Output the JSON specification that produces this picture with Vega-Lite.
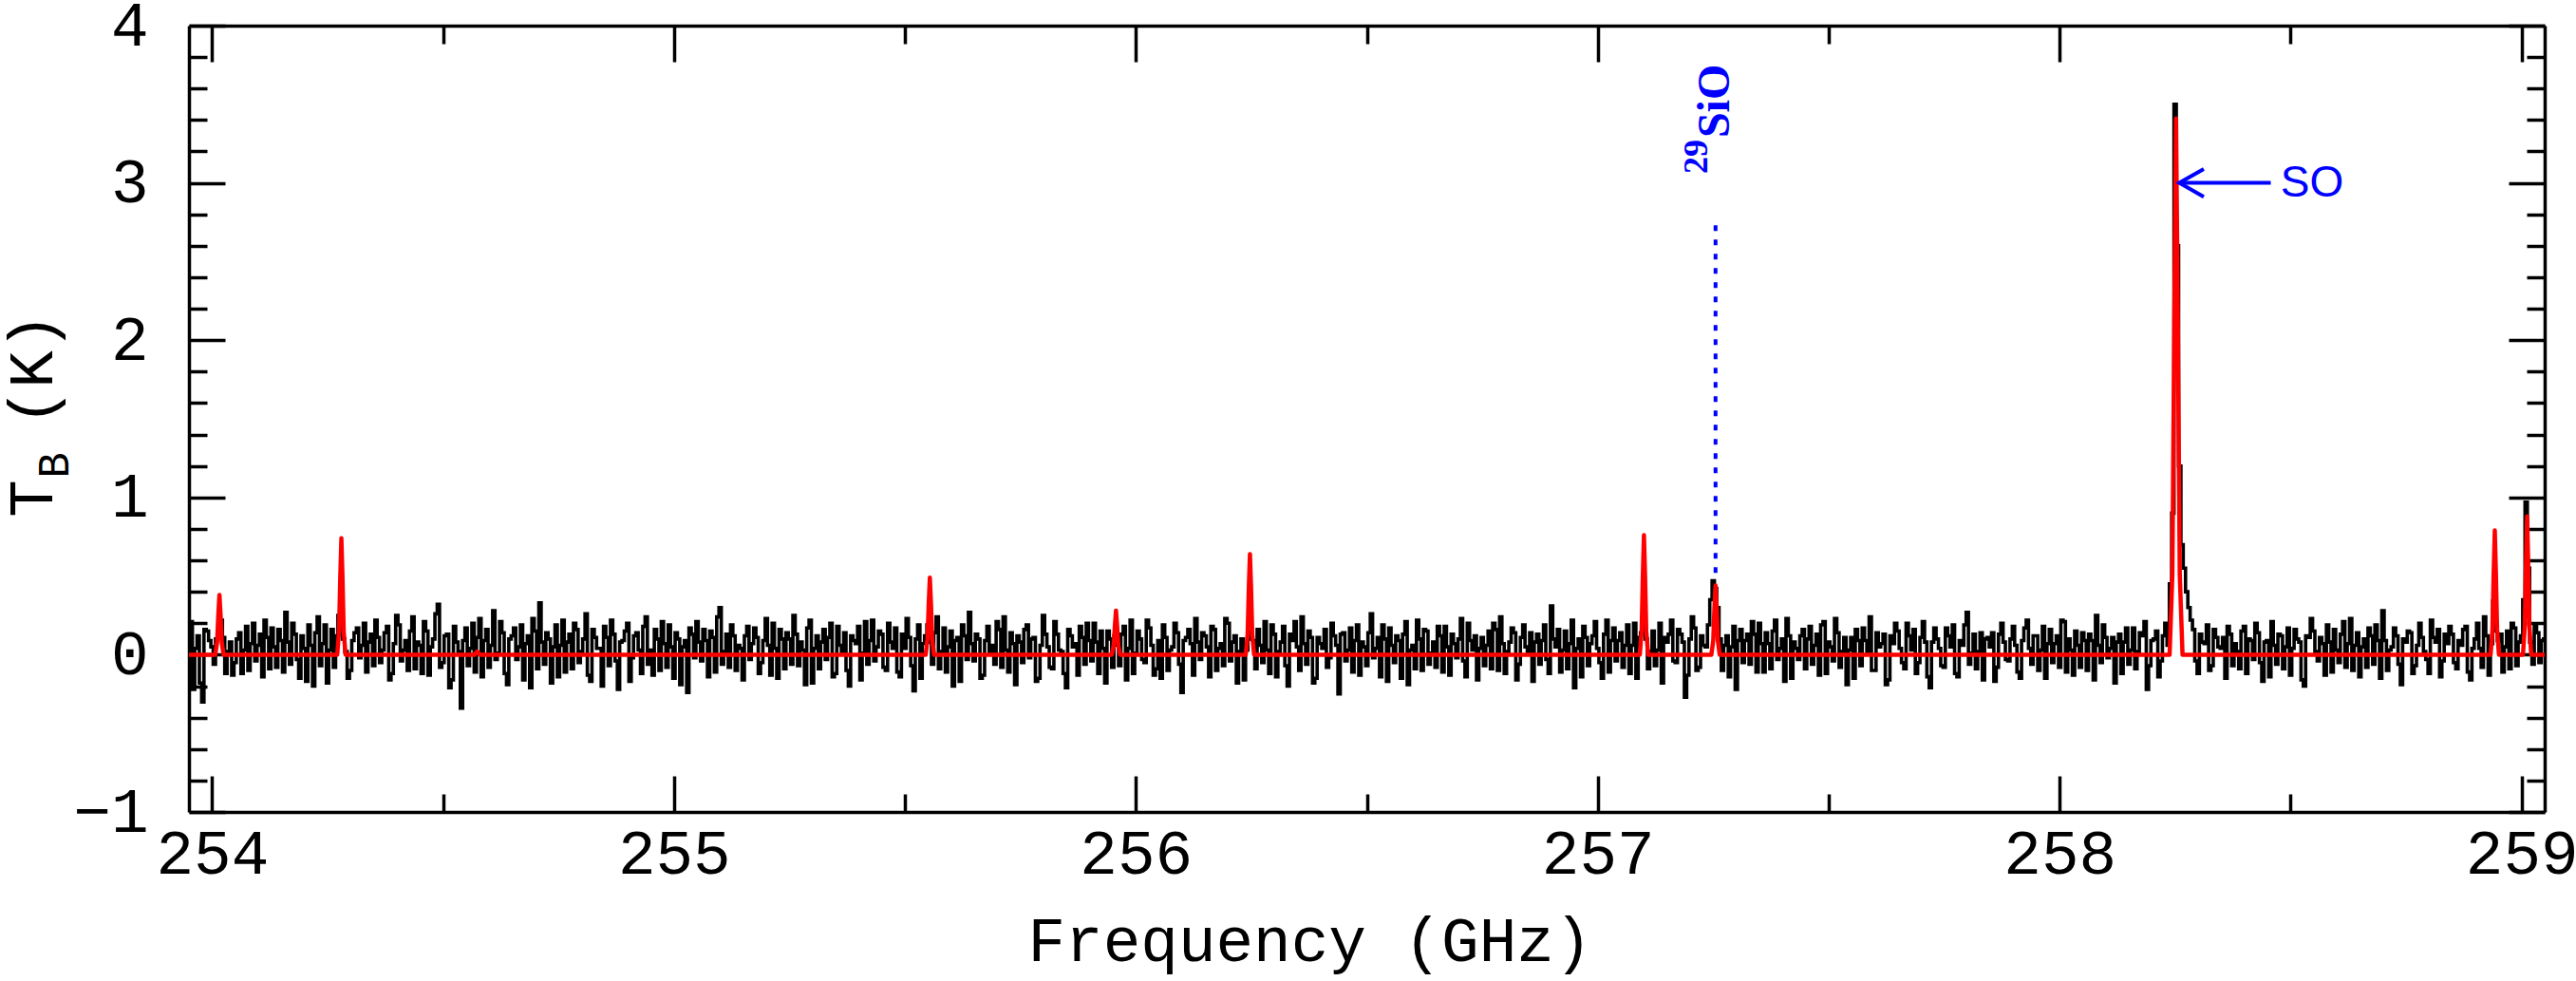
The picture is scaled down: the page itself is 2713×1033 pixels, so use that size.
{
"$schema":"https://vega.github.io/schema/vega-lite/v6.json",
"width":2481,"height":828,
"autosize":{"type":"none"},
"padding":{"left":199,"top":27,"right":33,"bottom":178},
"background":"white",
"config":{"view":{"stroke":null},"axis":{"grid":false,"domainColor":"black","tickColor":"black","domainWidth":3.5,"tickWidth":3.5,"labelFont":"Liberation Mono","labelFontSize":66,"labelFontWeight":"normal","labelColor":"black","titleFont":"Liberation Mono","titleFontSize":66,"titleColor":"black","titleFontWeight":"normal","labelFlush":false,"labelOverlap":false,"labelBound":false}},
"datasets":{
"spec":[
{"f":253.95,"t":0.18},{"f":253.96,"t":-0.22},{"f":253.97,"t":0.12},{"f":253.98,"t":-0.30},{"f":253.99,"t":0.15},{"f":254.00,"t":0.05},{"f":254.01,"t":0.10},{"f":254.02,"t":0.22},{"f":254.03,"t":-0.12},{"f":254.04,"t":0.08},
{"f":254.05,"t":-0.05},{"f":254.06,"t":0.14},{"f":254.07,"t":0.03},{"f":254.08,"t":-0.10},{"f":254.09,"t":0.20},{"f":254.10,"t":0.06},{"f":254.11,"t":-0.14},{"f":254.12,"t":0.11},{"f":254.13,"t":0.17},{"f":254.14,"t":-0.08},
{"f":254.15,"t":0.09},{"f":254.16,"t":0.27},{"f":254.17,"t":-0.06},{"f":254.18,"t":0.13},{"f":254.19,"t":-0.15},{"f":254.20,"t":0.04},{"f":254.21,"t":0.19},{"f":254.22,"t":-0.20},{"f":254.23,"t":0.24},{"f":254.24,"t":0.07},
{"f":254.25,"t":-0.18},{"f":254.26,"t":0.16},{"f":254.27,"t":0.12},{"f":254.28,"t":0.39},{"f":254.29,"t":0.02},{"f":254.30,"t":-0.10},{"f":254.31,"t":0.14},{"f":254.32,"t":-0.02},{"f":254.33,"t":0.20},{"f":254.34,"t":0.08},
{"f":254.35,"t":-0.07},{"f":254.36,"t":0.11},{"f":254.37,"t":0.03},{"f":254.38,"t":0.18},{"f":254.39,"t":-0.12},{"f":254.40,"t":0.25},{"f":254.41,"t":-0.04},{"f":254.42,"t":0.09},{"f":254.43,"t":0.15},{"f":254.44,"t":-0.09},
{"f":254.45,"t":0.06},{"f":254.46,"t":0.21},{"f":254.47,"t":-0.13},{"f":254.48,"t":0.10},{"f":254.49,"t":0.32},{"f":254.50,"t":-0.05},{"f":254.51,"t":0.13},{"f":254.52,"t":-0.16},{"f":254.53,"t":0.08},{"f":254.54,"t":-0.34},
{"f":254.55,"t":0.17},{"f":254.56,"t":0.04},{"f":254.57,"t":-0.11},{"f":254.58,"t":0.23},{"f":254.59,"t":0.09},{"f":254.60,"t":-0.08},{"f":254.61,"t":0.28},{"f":254.62,"t":0.01},{"f":254.63,"t":0.14},{"f":254.64,"t":-0.19},
{"f":254.65,"t":0.12},{"f":254.66,"t":-0.03},{"f":254.67,"t":0.19},{"f":254.68,"t":0.07},{"f":254.69,"t":-0.21},{"f":254.70,"t":0.15},{"f":254.71,"t":0.33},{"f":254.72,"t":-0.06},{"f":254.73,"t":0.10},{"f":254.74,"t":0.05},
{"f":254.75,"t":-0.14},{"f":254.76,"t":0.22},{"f":254.77,"t":0.08},{"f":254.78,"t":-0.09},{"f":254.79,"t":0.16},{"f":254.80,"t":0.02},{"f":254.81,"t":0.26},{"f":254.82,"t":-0.17},{"f":254.83,"t":0.11},{"f":254.84,"t":0.04},
{"f":254.85,"t":0.18},{"f":254.86,"t":-0.07},{"f":254.87,"t":0.13},{"f":254.88,"t":-0.22},{"f":254.89,"t":0.09},{"f":254.90,"t":0.20},{"f":254.91,"t":-0.02},{"f":254.92,"t":0.14},{"f":254.93,"t":-0.12},{"f":254.94,"t":0.24},
{"f":254.95,"t":0.03},{"f":254.96,"t":0.16},{"f":254.97,"t":-0.10},{"f":254.98,"t":0.07},{"f":254.99,"t":0.19},{"f":255.00,"t":-0.15},{"f":255.01,"t":0.10},{"f":255.02,"t":0.05},{"f":255.03,"t":-0.24},{"f":255.04,"t":0.13},
{"f":255.05,"t":0.21},{"f":255.06,"t":-0.04},{"f":255.07,"t":0.09},{"f":255.08,"t":0.15},{"f":255.09,"t":-0.11},{"f":255.10,"t":0.30},{"f":255.11,"t":0.02},{"f":255.12,"t":-0.08},{"f":255.13,"t":0.12},{"f":255.14,"t":0.06},
{"f":255.15,"t":-0.16},{"f":255.16,"t":0.18},{"f":255.17,"t":0.07},{"f":255.18,"t":0.11},{"f":255.19,"t":-0.05},{"f":255.20,"t":0.23},{"f":255.21,"t":-0.13},{"f":255.22,"t":0.04},{"f":255.23,"t":0.16},{"f":255.24,"t":-0.09},
{"f":255.25,"t":0.10},{"f":255.26,"t":0.25},{"f":255.27,"t":-0.07},{"f":255.28,"t":0.03},{"f":255.29,"t":0.17},{"f":255.30,"t":-0.18},{"f":255.31,"t":0.12},{"f":255.32,"t":0.08},{"f":255.33,"t":-0.03},{"f":255.34,"t":0.20},
{"f":255.35,"t":-0.12},{"f":255.36,"t":0.06},{"f":255.37,"t":0.14},{"f":255.38,"t":-0.20},{"f":255.39,"t":0.09},{"f":255.40,"t":0.18},{"f":255.41,"t":0.01},{"f":255.42,"t":-0.06},{"f":255.43,"t":0.22},{"f":255.44,"t":0.05},
{"f":255.45,"t":0.13},{"f":255.46,"t":-0.10},{"f":255.47,"t":0.08},{"f":255.48,"t":0.17},{"f":255.49,"t":-0.14},{"f":255.50,"t":0.04},{"f":255.51,"t":0.11},{"f":255.52,"t":-0.23},{"f":255.53,"t":0.19},{"f":255.54,"t":0.07},
{"f":255.55,"t":0.19},{"f":255.56,"t":-0.06},{"f":255.57,"t":0.24},{"f":255.58,"t":0.02},{"f":255.59,"t":-0.11},{"f":255.60,"t":0.15},{"f":255.61,"t":0.09},{"f":255.62,"t":-0.17},{"f":255.63,"t":0.12},{"f":255.64,"t":0.27},
{"f":255.65,"t":-0.04},{"f":255.66,"t":0.10},{"f":255.67,"t":-0.13},{"f":255.68,"t":0.18},{"f":255.69,"t":0.06},{"f":255.70,"t":0.21},{"f":255.71,"t":-0.08},{"f":255.72,"t":0.03},{"f":255.73,"t":0.14},{"f":255.74,"t":-0.19},
{"f":255.75,"t":0.08},{"f":255.76,"t":0.16},{"f":255.77,"t":-0.02},{"f":255.78,"t":0.11},{"f":255.79,"t":-0.15},{"f":255.80,"t":0.25},{"f":255.81,"t":0.05},{"f":255.82,"t":-0.09},{"f":255.83,"t":0.13},{"f":255.84,"t":0.02},
{"f":255.85,"t":-0.21},{"f":255.86,"t":0.12},{"f":255.87,"t":0.07},{"f":255.88,"t":0.18},{"f":255.89,"t":-0.06},{"f":255.90,"t":0.09},{"f":255.91,"t":0.20},{"f":255.92,"t":-0.12},{"f":255.93,"t":0.04},{"f":255.94,"t":0.15},
{"f":255.95,"t":-0.08},{"f":255.96,"t":0.06},{"f":255.97,"t":0.13},{"f":255.98,"t":-0.16},{"f":255.99,"t":0.22},{"f":256.00,"t":0.01},{"f":256.01,"t":0.10},{"f":256.02,"t":-0.05},{"f":256.03,"t":0.17},{"f":256.04,"t":-0.13},
{"f":256.05,"t":0.09},{"f":256.06,"t":0.19},{"f":256.07,"t":-0.10},{"f":256.08,"t":0.05},{"f":256.09,"t":0.14},{"f":256.10,"t":-0.24},{"f":256.11,"t":0.11},{"f":256.12,"t":0.07},{"f":256.13,"t":0.23},{"f":256.14,"t":-0.03},
{"f":256.15,"t":0.12},{"f":256.16,"t":-0.14},{"f":256.17,"t":0.16},{"f":256.18,"t":0.04},{"f":256.19,"t":-0.07},{"f":256.20,"t":0.20},{"f":256.21,"t":0.08},{"f":256.22,"t":-0.18},{"f":256.23,"t":0.10},{"f":256.24,"t":0.03},
{"f":256.25,"t":0.15},{"f":256.26,"t":-0.09},{"f":256.27,"t":0.06},{"f":256.28,"t":0.21},{"f":256.29,"t":-0.12},{"f":256.30,"t":0.13},{"f":256.31,"t":0.02},{"f":256.32,"t":0.18},{"f":256.33,"t":-0.20},{"f":256.34,"t":0.09},
{"f":256.35,"t":0.05},{"f":256.36,"t":0.24},{"f":256.37,"t":-0.06},{"f":256.38,"t":0.11},{"f":256.39,"t":-0.15},{"f":256.40,"t":0.07},{"f":256.41,"t":0.16},{"f":256.42,"t":-0.02},{"f":256.43,"t":0.12},{"f":256.44,"t":-0.25},
{"f":256.45,"t":0.14},{"f":256.46,"t":0.03},{"f":256.47,"t":-0.11},{"f":256.48,"t":0.19},{"f":256.49,"t":0.08},{"f":256.50,"t":-0.07},{"f":256.51,"t":0.26},{"f":256.52,"t":0.04},{"f":256.53,"t":-0.14},{"f":256.54,"t":0.10},
{"f":256.55,"t":0.17},{"f":256.56,"t":-0.05},{"f":256.57,"t":0.09},{"f":256.58,"t":0.13},{"f":256.59,"t":-0.19},{"f":256.60,"t":0.06},{"f":256.61,"t":0.22},{"f":256.62,"t":-0.10},{"f":256.63,"t":0.15},{"f":256.64,"t":0.01},
{"f":256.65,"t":-0.08},{"f":256.66,"t":0.12},{"f":256.67,"t":0.18},{"f":256.68,"t":-0.13},{"f":256.69,"t":0.07},{"f":256.70,"t":0.10},{"f":256.71,"t":-0.04},{"f":256.72,"t":0.20},{"f":256.73,"t":0.03},{"f":256.74,"t":-0.16},
{"f":256.75,"t":0.11},{"f":256.76,"t":0.06},{"f":256.77,"t":-0.09},{"f":256.78,"t":0.16},{"f":256.79,"t":0.24},{"f":256.80,"t":-0.12},{"f":256.81,"t":0.08},{"f":256.82,"t":0.14},{"f":256.83,"t":-0.06},{"f":256.84,"t":0.19},
{"f":256.85,"t":0.02},{"f":256.86,"t":-0.17},{"f":256.87,"t":0.13},{"f":256.88,"t":0.09},{"f":256.89,"t":-0.03},{"f":256.90,"t":0.31},{"f":256.91,"t":0.05},{"f":256.92,"t":-0.11},{"f":256.93,"t":0.15},{"f":256.94,"t":0.07},
{"f":256.95,"t":-0.21},{"f":256.96,"t":0.10},{"f":256.97,"t":0.18},{"f":256.98,"t":-0.07},{"f":256.99,"t":0.12},{"f":257.00,"t":0.04},{"f":257.01,"t":-0.15},{"f":257.02,"t":0.22},{"f":257.03,"t":0.09},{"f":257.04,"t":-0.04},
{"f":257.05,"t":0.14},{"f":257.06,"t":0.06},{"f":257.07,"t":-0.12},{"f":257.08,"t":0.20},{"f":257.09,"t":0.11},{"f":257.10,"t":0.25},{"f":257.11,"t":-0.09},{"f":257.12,"t":0.15},{"f":257.13,"t":0.03},{"f":257.14,"t":-0.18},
{"f":257.15,"t":0.08},{"f":257.16,"t":0.22},{"f":257.17,"t":-0.05},{"f":257.18,"t":0.13},{"f":257.19,"t":-0.27},{"f":257.20,"t":0.10},{"f":257.21,"t":0.17},{"f":257.22,"t":-0.08},{"f":257.23,"t":0.06},{"f":257.24,"t":0.19},
{"f":257.25,"t":0.47},{"f":257.26,"t":0.30},{"f":257.27,"t":-0.10},{"f":257.28,"t":0.12},{"f":257.29,"t":0.05},{"f":257.30,"t":-0.22},{"f":257.31,"t":0.16},{"f":257.32,"t":0.09},{"f":257.33,"t":-0.06},{"f":257.34,"t":0.13},
{"f":257.35,"t":0.20},{"f":257.36,"t":-0.11},{"f":257.37,"t":0.07},{"f":257.38,"t":0.15},{"f":257.39,"t":-0.03},{"f":257.40,"t":0.10},{"f":257.41,"t":0.23},{"f":257.42,"t":-0.15},{"f":257.43,"t":0.04},{"f":257.44,"t":0.12},
{"f":257.45,"t":-0.09},{"f":257.46,"t":0.18},{"f":257.47,"t":0.06},{"f":257.48,"t":-0.13},{"f":257.49,"t":0.21},{"f":257.50,"t":0.08},{"f":257.51,"t":-0.04},{"f":257.52,"t":0.14},{"f":257.53,"t":0.02},{"f":257.54,"t":-0.19},
{"f":257.55,"t":0.11},{"f":257.56,"t":0.16},{"f":257.57,"t":-0.07},{"f":257.58,"t":0.09},{"f":257.59,"t":0.24},{"f":257.60,"t":-0.10},{"f":257.61,"t":0.05},{"f":257.62,"t":0.13},{"f":257.63,"t":-0.16},{"f":257.64,"t":0.07},
{"f":257.65,"t":0.15},{"f":257.66,"t":-0.05},{"f":257.67,"t":0.20},{"f":257.68,"t":0.03},{"f":257.69,"t":-0.12},{"f":257.70,"t":0.11},{"f":257.71,"t":0.08},{"f":257.72,"t":-0.21},{"f":257.73,"t":0.17},{"f":257.74,"t":0.04},
{"f":257.75,"t":-0.08},{"f":257.76,"t":0.12},{"f":257.77,"t":0.19},{"f":257.78,"t":-0.14},{"f":257.79,"t":0.06},{"f":257.80,"t":0.27},{"f":257.81,"t":0.01},{"f":257.82,"t":-0.09},{"f":257.83,"t":0.14},{"f":257.84,"t":0.10},
{"f":257.85,"t":0.05},{"f":257.86,"t":-0.17},{"f":257.87,"t":0.13},{"f":257.88,"t":0.08},{"f":257.89,"t":-0.04},{"f":257.90,"t":0.18},{"f":257.91,"t":-0.11},{"f":257.92,"t":0.09},{"f":257.93,"t":0.22},{"f":257.94,"t":-0.06},
{"f":257.95,"t":0.12},{"f":257.96,"t":0.03},{"f":257.97,"t":-0.15},{"f":257.98,"t":0.16},{"f":257.99,"t":0.07},{"f":258.00,"t":-0.08},{"f":258.01,"t":0.21},{"f":258.02,"t":0.10},{"f":258.03,"t":-0.13},{"f":258.04,"t":0.06},
{"f":258.05,"t":0.14},{"f":258.06,"t":-0.10},{"f":258.07,"t":0.09},{"f":258.08,"t":0.25},{"f":258.09,"t":-0.05},{"f":258.10,"t":0.11},{"f":258.11,"t":0.04},{"f":258.12,"t":-0.18},{"f":258.13,"t":0.13},{"f":258.14,"t":0.08},
{"f":258.15,"t":-0.06},{"f":258.16,"t":0.17},{"f":258.17,"t":0.02},{"f":258.18,"t":0.12},{"f":258.19,"t":-0.22},{"f":258.20,"t":0.09},{"f":258.21,"t":0.15},{"f":258.22,"t":-0.04},{"f":258.23,"t":0.20},{"f":258.24,"t":0.45},
{"f":258.25,"t":3.50},{"f":258.26,"t":1.20},{"f":258.27,"t":0.55},{"f":258.28,"t":0.30},{"f":258.29,"t":0.16},{"f":258.30,"t":-0.12},{"f":258.31,"t":0.08},{"f":258.32,"t":0.19},{"f":258.33,"t":-0.07},{"f":258.34,"t":0.11},
{"f":258.35,"t":0.04},{"f":258.36,"t":-0.15},{"f":258.37,"t":0.13},{"f":258.38,"t":0.07},{"f":258.39,"t":-0.09},{"f":258.40,"t":0.18},{"f":258.41,"t":0.10},{"f":258.42,"t":-0.03},{"f":258.43,"t":0.14},{"f":258.44,"t":-0.17},
{"f":258.45,"t":0.09},{"f":258.46,"t":0.21},{"f":258.47,"t":-0.06},{"f":258.48,"t":0.12},{"f":258.49,"t":0.05},{"f":258.50,"t":-0.13},{"f":258.51,"t":0.16},{"f":258.52,"t":0.08},{"f":258.53,"t":-0.20},{"f":258.54,"t":0.11},
{"f":258.55,"t":0.15},{"f":258.56,"t":-0.04},{"f":258.57,"t":0.07},{"f":258.58,"t":0.19},{"f":258.59,"t":-0.11},{"f":258.60,"t":0.03},{"f":258.61,"t":0.13},{"f":258.62,"t":-0.08},{"f":258.63,"t":0.23},{"f":258.64,"t":0.06},
{"f":258.65,"t":-0.14},{"f":258.66,"t":0.10},{"f":258.67,"t":0.17},{"f":258.68,"t":-0.06},{"f":258.69,"t":0.09},{"f":258.70,"t":0.28},{"f":258.71,"t":-0.10},{"f":258.72,"t":0.05},{"f":258.73,"t":0.12},{"f":258.74,"t":-0.19},
{"f":258.75,"t":0.08},{"f":258.76,"t":0.14},{"f":258.77,"t":-0.07},{"f":258.78,"t":0.20},{"f":258.79,"t":0.02},{"f":258.80,"t":-0.12},{"f":258.81,"t":0.11},{"f":258.82,"t":0.16},{"f":258.83,"t":-0.04},{"f":258.84,"t":0.07},
{"f":258.85,"t":0.13},{"f":258.86,"t":-0.09},{"f":258.87,"t":0.06},{"f":258.88,"t":0.18},{"f":258.89,"t":-0.16},{"f":258.90,"t":0.10},{"f":258.91,"t":0.04},{"f":258.92,"t":0.24},{"f":258.93,"t":-0.13},{"f":258.94,"t":0.34},
{"f":258.95,"t":0.09},{"f":258.96,"t":-0.11},{"f":258.97,"t":0.15},{"f":258.98,"t":0.20},{"f":258.99,"t":-0.07},{"f":259.00,"t":0.12},{"f":259.01,"t":0.97},{"f":259.02,"t":0.08},{"f":259.03,"t":0.18},{"f":259.04,"t":-0.05},
{"f":259.05,"t":0.10},
{"f":253.955,"t":0.21},{"f":253.965,"t":0.04},{"f":253.975,"t":-0.18},{"f":253.985,"t":0.16},{"f":253.995,"t":0.09},{"f":254.005,"t":-0.06},{"f":254.015,"t":0.15},{"f":254.025,"t":0.11},{"f":254.035,"t":0.02},{"f":254.045,"t":-0.13},
{"f":254.055,"t":0.10},{"f":254.065,"t":-0.12},{"f":254.075,"t":0.18},{"f":254.085,"t":0.07},{"f":254.095,"t":-0.04},{"f":254.105,"t":0.13},{"f":254.115,"t":0.22},{"f":254.125,"t":-0.09},{"f":254.135,"t":0.05},{"f":254.145,"t":0.16},
{"f":254.155,"t":-0.11},{"f":254.165,"t":0.08},{"f":254.175,"t":0.20},{"f":254.185,"t":-0.03},{"f":254.195,"t":0.12},{"f":254.205,"t":-0.17},{"f":254.215,"t":0.06},{"f":254.225,"t":0.14},{"f":254.235,"t":-0.07},{"f":254.245,"t":0.19},
{"f":254.255,"t":0.03},{"f":254.265,"t":-0.08},{"f":254.275,"t":0.25},{"f":254.285,"t":0.10},{"f":254.295,"t":-0.15},{"f":254.305,"t":0.09},{"f":254.315,"t":0.17},{"f":254.325,"t":0.06},{"f":254.335,"t":-0.11},{"f":254.345,"t":0.13},
{"f":254.355,"t":0.22},{"f":254.365,"t":-0.05},{"f":254.375,"t":0.14},{"f":254.385,"t":-0.16},{"f":254.395,"t":0.07},{"f":254.405,"t":0.19},{"f":254.415,"t":0.03},{"f":254.425,"t":-0.10},{"f":254.435,"t":0.24},{"f":254.445,"t":0.08},
{"f":254.455,"t":-0.12},{"f":254.465,"t":0.15},{"f":254.475,"t":0.05},{"f":254.485,"t":0.26},{"f":254.495,"t":-0.08},{"f":254.505,"t":0.12},{"f":254.515,"t":-0.21},{"f":254.525,"t":0.18},{"f":254.535,"t":0.02},{"f":254.545,"t":0.09},
{"f":254.555,"t":-0.07},{"f":254.565,"t":0.20},{"f":254.575,"t":0.11},{"f":254.585,"t":-0.14},{"f":254.595,"t":0.16},{"f":254.605,"t":0.06},{"f":254.615,"t":-0.03},{"f":254.625,"t":0.21},{"f":254.635,"t":-0.12},{"f":254.645,"t":0.10},
{"f":254.655,"t":0.17},{"f":254.665,"t":0.05},{"f":254.675,"t":-0.16},{"f":254.685,"t":0.12},{"f":254.695,"t":0.23},{"f":254.705,"t":-0.09},{"f":254.715,"t":0.08},{"f":254.725,"t":0.14},{"f":254.735,"t":-0.18},{"f":254.745,"t":0.19},
{"f":254.755,"t":0.06},{"f":254.765,"t":-0.11},{"f":254.775,"t":0.13},{"f":254.785,"t":0.20},{"f":254.795,"t":-0.05},{"f":254.805,"t":0.10},{"f":254.815,"t":-0.13},{"f":254.825,"t":0.16},{"f":254.835,"t":0.04},{"f":254.845,"t":-0.20},
{"f":254.855,"t":0.11},{"f":254.865,"t":0.22},{"f":254.875,"t":-0.04},{"f":254.885,"t":0.08},{"f":254.895,"t":0.15},{"f":254.905,"t":-0.17},{"f":254.915,"t":0.12},{"f":254.925,"t":0.03},{"f":254.935,"t":0.18},{"f":254.945,"t":-0.06},
{"f":254.955,"t":-0.13},{"f":254.965,"t":0.10},{"f":254.975,"t":0.21},{"f":254.985,"t":-0.08},{"f":254.995,"t":0.05},{"f":255.005,"t":0.14},{"f":255.015,"t":-0.19},{"f":255.025,"t":0.09},{"f":255.035,"t":0.17},{"f":255.045,"t":-0.02},
{"f":255.055,"t":0.08},{"f":255.065,"t":0.16},{"f":255.075,"t":-0.14},{"f":255.085,"t":0.11},{"f":255.095,"t":0.24},{"f":255.105,"t":-0.06},{"f":255.115,"t":0.13},{"f":255.125,"t":0.19},{"f":255.135,"t":-0.10},{"f":255.145,"t":0.04},
{"f":255.155,"t":0.12},{"f":255.165,"t":-0.03},{"f":255.175,"t":0.17},{"f":255.185,"t":-0.12},{"f":255.195,"t":0.09},{"f":255.205,"t":0.06},{"f":255.215,"t":0.20},{"f":255.225,"t":-0.15},{"f":255.235,"t":0.10},{"f":255.245,"t":0.14},
{"f":255.255,"t":-0.06},{"f":255.265,"t":0.13},{"f":255.275,"t":0.08},{"f":255.285,"t":-0.19},{"f":255.295,"t":0.22},{"f":255.305,"t":0.04},{"f":255.315,"t":-0.09},{"f":255.325,"t":0.16},{"f":255.335,"t":0.11},{"f":255.345,"t":-0.14},
{"f":255.355,"t":0.18},{"f":255.365,"t":0.02},{"f":255.375,"t":-0.10},{"f":255.385,"t":0.12},{"f":255.395,"t":0.07},{"f":255.405,"t":-0.16},{"f":255.415,"t":0.21},{"f":255.425,"t":0.09},{"f":255.435,"t":-0.04},{"f":255.445,"t":0.15},
{"f":255.455,"t":-0.08},{"f":255.465,"t":0.20},{"f":255.475,"t":0.04},{"f":255.485,"t":-0.11},{"f":255.495,"t":0.13},{"f":255.505,"t":0.23},{"f":255.515,"t":-0.07},{"f":255.525,"t":0.10},{"f":255.535,"t":-0.15},{"f":255.545,"t":0.12},
{"f":255.555,"t":0.08},{"f":255.565,"t":0.14},{"f":255.575,"t":-0.09},{"f":255.585,"t":0.17},{"f":255.595,"t":0.05},{"f":255.605,"t":-0.20},{"f":255.615,"t":0.11},{"f":255.625,"t":0.19},{"f":255.635,"t":-0.03},{"f":255.645,"t":0.07},
{"f":255.655,"t":0.13},{"f":255.665,"t":-0.15},{"f":255.675,"t":0.09},{"f":255.685,"t":0.02},{"f":255.695,"t":-0.06},{"f":255.705,"t":0.16},{"f":255.715,"t":0.24},{"f":255.725,"t":-0.11},{"f":255.735,"t":0.07},{"f":255.745,"t":0.12},
{"f":255.755,"t":-0.05},{"f":255.765,"t":0.19},{"f":255.775,"t":0.10},{"f":255.785,"t":-0.17},{"f":255.795,"t":0.06},{"f":255.805,"t":0.13},{"f":255.815,"t":-0.08},{"f":255.825,"t":0.21},{"f":255.835,"t":0.03},{"f":255.845,"t":-0.12},
{"f":255.855,"t":0.16},{"f":255.865,"t":0.05},{"f":255.875,"t":-0.13},{"f":255.885,"t":0.11},{"f":255.895,"t":0.20},{"f":255.905,"t":-0.04},{"f":255.915,"t":0.08},{"f":255.925,"t":0.15},{"f":255.935,"t":-0.18},{"f":255.945,"t":0.10},
{"f":255.955,"t":0.12},{"f":255.965,"t":-0.07},{"f":255.975,"t":0.18},{"f":255.985,"t":0.04},{"f":255.995,"t":-0.12},{"f":256.005,"t":0.15},{"f":256.015,"t":-0.03},{"f":256.025,"t":0.22},{"f":256.035,"t":0.06},{"f":256.045,"t":-0.09},
{"f":256.055,"t":-0.15},{"f":256.065,"t":0.11},{"f":256.075,"t":0.03},{"f":256.085,"t":0.20},{"f":256.095,"t":-0.06},{"f":256.105,"t":0.09},{"f":256.115,"t":0.16},{"f":256.125,"t":-0.13},{"f":256.135,"t":0.08},{"f":256.145,"t":0.14},
{"f":256.155,"t":0.05},{"f":256.165,"t":0.18},{"f":256.175,"t":-0.10},{"f":256.185,"t":0.07},{"f":256.195,"t":0.23},{"f":256.205,"t":-0.04},{"f":256.215,"t":0.12},{"f":256.225,"t":0.02},{"f":256.235,"t":-0.16},{"f":256.245,"t":0.10},
{"f":256.255,"t":0.09},{"f":256.265,"t":0.16},{"f":256.275,"t":-0.05},{"f":256.285,"t":0.03},{"f":256.295,"t":0.19},{"f":256.305,"t":-0.14},{"f":256.315,"t":0.08},{"f":256.325,"t":-0.07},{"f":256.335,"t":0.13},{"f":256.345,"t":0.21},
{"f":256.355,"t":-0.10},{"f":256.365,"t":0.07},{"f":256.375,"t":0.15},{"f":256.385,"t":-0.18},{"f":256.395,"t":0.11},{"f":256.405,"t":0.04},{"f":256.415,"t":-0.08},{"f":256.425,"t":0.20},{"f":256.435,"t":0.06},{"f":256.445,"t":0.13},
{"f":256.455,"t":-0.04},{"f":256.465,"t":0.17},{"f":256.475,"t":0.09},{"f":256.485,"t":-0.13},{"f":256.495,"t":0.05},{"f":256.505,"t":0.14},{"f":256.515,"t":-0.02},{"f":256.525,"t":0.11},{"f":256.535,"t":0.19},{"f":256.545,"t":-0.17},
{"f":256.555,"t":0.06},{"f":256.565,"t":0.12},{"f":256.575,"t":-0.15},{"f":256.585,"t":0.21},{"f":256.595,"t":0.03},{"f":256.605,"t":-0.09},{"f":256.615,"t":0.10},{"f":256.625,"t":0.16},{"f":256.635,"t":-0.06},{"f":256.645,"t":0.08},
{"f":256.655,"t":0.18},{"f":256.665,"t":-0.11},{"f":256.675,"t":0.05},{"f":256.685,"t":0.13},{"f":256.695,"t":-0.02},{"f":256.705,"t":0.23},{"f":256.715,"t":-0.14},{"f":256.725,"t":0.09},{"f":256.735,"t":0.12},{"f":256.745,"t":0.04},
{"f":256.755,"t":-0.07},{"f":256.765,"t":0.15},{"f":256.775,"t":0.20},{"f":256.785,"t":-0.10},{"f":256.795,"t":0.07},{"f":256.805,"t":0.02},{"f":256.815,"t":0.17},{"f":256.825,"t":-0.16},{"f":256.835,"t":0.11},{"f":256.845,"t":0.05},
{"f":256.855,"t":0.14},{"f":256.865,"t":0.08},{"f":256.875,"t":-0.06},{"f":256.885,"t":0.19},{"f":256.895,"t":-0.12},{"f":256.905,"t":0.10},{"f":256.915,"t":0.16},{"f":256.925,"t":0.03},{"f":256.935,"t":-0.09},{"f":256.945,"t":0.22},
{"f":256.955,"t":0.04},{"f":256.965,"t":-0.14},{"f":256.975,"t":0.11},{"f":256.985,"t":0.07},{"f":256.995,"t":0.21},{"f":257.005,"t":-0.05},{"f":257.015,"t":0.13},{"f":257.025,"t":-0.11},{"f":257.035,"t":0.17},{"f":257.045,"t":0.09},
{"f":257.055,"t":-0.08},{"f":257.065,"t":0.19},{"f":257.075,"t":0.06},{"f":257.085,"t":-0.15},{"f":257.095,"t":0.14},{"f":257.105,"t":0.10},{"f":257.115,"t":0.02},{"f":257.125,"t":-0.07},{"f":257.135,"t":0.20},{"f":257.145,"t":0.11},
{"f":257.155,"t":0.13},{"f":257.165,"t":-0.04},{"f":257.175,"t":0.16},{"f":257.185,"t":0.08},{"f":257.195,"t":-0.13},{"f":257.205,"t":0.24},{"f":257.215,"t":-0.10},{"f":257.225,"t":0.12},{"f":257.235,"t":0.05},{"f":257.245,"t":0.35},
{"f":257.255,"t":0.42},{"f":257.265,"t":0.10},{"f":257.275,"t":0.06},{"f":257.285,"t":-0.14},{"f":257.295,"t":0.18},{"f":257.305,"t":0.09},{"f":257.315,"t":-0.05},{"f":257.325,"t":0.13},{"f":257.335,"t":0.21},{"f":257.345,"t":-0.11},
{"f":257.355,"t":0.07},{"f":257.365,"t":0.14},{"f":257.375,"t":-0.09},{"f":257.385,"t":0.22},{"f":257.395,"t":0.04},{"f":257.405,"t":-0.17},{"f":257.415,"t":0.12},{"f":257.425,"t":0.08},{"f":257.435,"t":-0.03},{"f":257.445,"t":0.16},
{"f":257.455,"t":0.10},{"f":257.465,"t":-0.06},{"f":257.475,"t":0.13},{"f":257.485,"t":0.19},{"f":257.495,"t":-0.12},{"f":257.505,"t":0.05},{"f":257.515,"t":0.23},{"f":257.525,"t":-0.08},{"f":257.535,"t":0.11},{"f":257.545,"t":0.03},
{"f":257.555,"t":-0.15},{"f":257.565,"t":0.09},{"f":257.575,"t":0.17},{"f":257.585,"t":0.02},{"f":257.595,"t":-0.10},{"f":257.605,"t":0.14},{"f":257.615,"t":0.07},{"f":257.625,"t":-0.19},{"f":257.635,"t":0.12},{"f":257.645,"t":0.20},
{"f":257.655,"t":0.04},{"f":257.665,"t":-0.09},{"f":257.675,"t":0.12},{"f":257.685,"t":0.16},{"f":257.695,"t":-0.05},{"f":257.705,"t":0.21},{"f":257.715,"t":-0.14},{"f":257.725,"t":0.08},{"f":257.735,"t":0.10},{"f":257.745,"t":-0.07},
{"f":257.755,"t":0.17},{"f":257.765,"t":0.05},{"f":257.775,"t":-0.12},{"f":257.785,"t":0.09},{"f":257.795,"t":0.19},{"f":257.805,"t":-0.06},{"f":257.815,"t":0.13},{"f":257.825,"t":0.02},{"f":257.835,"t":-0.16},{"f":257.845,"t":0.11},
{"f":257.855,"t":0.14},{"f":257.865,"t":-0.08},{"f":257.875,"t":0.20},{"f":257.885,"t":-0.03},{"f":257.895,"t":0.10},{"f":257.905,"t":0.06},{"f":257.915,"t":-0.15},{"f":257.925,"t":0.17},{"f":257.935,"t":0.04},{"f":257.945,"t":0.12},
{"f":257.955,"t":-0.10},{"f":257.965,"t":0.18},{"f":257.975,"t":0.07},{"f":257.985,"t":-0.05},{"f":257.995,"t":0.12},{"f":258.005,"t":0.22},{"f":258.015,"t":-0.11},{"f":258.025,"t":0.03},{"f":258.035,"t":0.15},{"f":258.045,"t":-0.08},
{"f":258.055,"t":0.09},{"f":258.065,"t":0.13},{"f":258.075,"t":-0.16},{"f":258.085,"t":0.06},{"f":258.095,"t":0.19},{"f":258.105,"t":-0.02},{"f":258.115,"t":0.11},{"f":258.125,"t":0.08},{"f":258.135,"t":-0.12},{"f":258.145,"t":0.17},
{"f":258.155,"t":0.03},{"f":258.165,"t":-0.09},{"f":258.175,"t":0.14},{"f":258.185,"t":0.21},{"f":258.195,"t":-0.07},{"f":258.205,"t":0.10},{"f":258.215,"t":-0.14},{"f":258.225,"t":0.12},{"f":258.235,"t":0.06},{"f":258.245,"t":0.90},
{"f":258.255,"t":2.60},{"f":258.265,"t":0.70},{"f":258.275,"t":0.40},{"f":258.285,"t":0.22},{"f":258.295,"t":-0.04},{"f":258.305,"t":0.13},{"f":258.315,"t":0.07},{"f":258.325,"t":-0.10},{"f":258.335,"t":0.16},{"f":258.345,"t":0.05},
{"f":258.355,"t":0.11},{"f":258.365,"t":0.18},{"f":258.375,"t":-0.07},{"f":258.385,"t":0.02},{"f":258.395,"t":0.15},{"f":258.405,"t":-0.12},{"f":258.415,"t":0.09},{"f":258.425,"t":0.20},{"f":258.435,"t":-0.05},{"f":258.445,"t":0.08},
{"f":258.455,"t":-0.14},{"f":258.465,"t":0.06},{"f":258.475,"t":0.13},{"f":258.485,"t":-0.09},{"f":258.495,"t":0.17},{"f":258.505,"t":0.04},{"f":258.515,"t":0.10},{"f":258.525,"t":-0.16},{"f":258.535,"t":0.12},{"f":258.545,"t":0.23},
{"f":258.555,"t":0.02},{"f":258.565,"t":0.11},{"f":258.575,"t":-0.13},{"f":258.585,"t":0.08},{"f":258.595,"t":0.16},{"f":258.605,"t":-0.05},{"f":258.615,"t":0.21},{"f":258.625,"t":0.07},{"f":258.635,"t":-0.10},{"f":258.645,"t":0.14},
{"f":258.655,"t":0.05},{"f":258.665,"t":-0.08},{"f":258.675,"t":0.12},{"f":258.685,"t":0.19},{"f":258.695,"t":-0.15},{"f":258.705,"t":0.09},{"f":258.715,"t":0.03},{"f":258.725,"t":0.17},{"f":258.735,"t":-0.06},{"f":258.745,"t":0.10},
{"f":258.755,"t":0.15},{"f":258.765,"t":-0.12},{"f":258.775,"t":0.06},{"f":258.785,"t":0.11},{"f":258.795,"t":-0.03},{"f":258.805,"t":0.22},{"f":258.815,"t":0.08},{"f":258.825,"t":-0.14},{"f":258.835,"t":0.13},{"f":258.845,"t":0.18},
{"f":258.855,"t":-0.05},{"f":258.865,"t":0.09},{"f":258.875,"t":0.16},{"f":258.885,"t":-0.11},{"f":258.895,"t":0.04},{"f":258.905,"t":0.20},{"f":258.915,"t":-0.08},{"f":258.925,"t":0.12},{"f":258.935,"t":0.07},{"f":258.945,"t":0.15},
{"f":258.955,"t":0.13},{"f":258.965,"t":0.05},{"f":258.975,"t":-0.09},{"f":258.985,"t":0.17},{"f":258.995,"t":0.08},{"f":259.005,"t":0.35},{"f":259.015,"t":0.55},{"f":259.025,"t":-0.06},{"f":259.035,"t":0.14},{"f":259.045,"t":0.09}
],
"model":[
{"f":253.95,"t":0},
{"f":254.007,"t":0},{"f":254.011,"t":0.08},{"f":254.0135,"t":0.25},{"f":254.016,"t":0.38},{"f":254.0185,"t":0.25},{"f":254.021,"t":0.08},{"f":254.025,"t":0},
{"f":254.271,"t":0},{"f":254.275,"t":0.15},{"f":254.2775,"t":0.48},{"f":254.28,"t":0.74},{"f":254.2825,"t":0.48},{"f":254.285,"t":0.15},{"f":254.289,"t":0},
{"f":254.568,"t":0},{"f":254.574,"t":0.02},{"f":254.58,"t":0},
{"f":255.545,"t":0},{"f":255.549,"t":0.10},{"f":255.5515,"t":0.32},{"f":255.554,"t":0.49},{"f":255.5565,"t":0.32},{"f":255.559,"t":0.10},{"f":255.563,"t":0},
{"f":255.948,"t":0},{"f":255.952,"t":0.06},{"f":255.9545,"t":0.18},{"f":255.957,"t":0.28},{"f":255.9595,"t":0.18},{"f":255.962,"t":0.06},{"f":255.966,"t":0},
{"f":256.238,"t":0},{"f":256.242,"t":0.13},{"f":256.2445,"t":0.42},{"f":256.247,"t":0.64},{"f":256.2495,"t":0.42},{"f":256.252,"t":0.13},{"f":256.256,"t":0},
{"f":257.091,"t":0},{"f":257.095,"t":0.15},{"f":257.0975,"t":0.49},{"f":257.1,"t":0.76},{"f":257.1025,"t":0.49},{"f":257.105,"t":0.15},{"f":257.109,"t":0},
{"f":257.246,"t":0},{"f":257.25,"t":0.09},{"f":257.2525,"t":0.29},{"f":257.255,"t":0.44},{"f":257.2575,"t":0.29},{"f":257.26,"t":0.09},{"f":257.264,"t":0},
{"f":258.238,"t":0},{"f":258.244,"t":0.51},{"f":258.248,"t":2.05},{"f":258.252,"t":3.41},{"f":258.256,"t":2.05},{"f":258.26,"t":0.51},{"f":258.266,"t":0},
{"f":258.933,"t":0},{"f":258.937,"t":0.16},{"f":258.9395,"t":0.51},{"f":258.942,"t":0.79},{"f":258.9445,"t":0.51},{"f":258.947,"t":0.16},{"f":258.951,"t":0},
{"f":259.003,"t":0},{"f":259.007,"t":0.18},{"f":259.0095,"t":0.57},{"f":259.012,"t":0.88},{"f":259.0145,"t":0.57},{"f":259.017,"t":0.18},{"f":259.021,"t":0},
{"f":259.05,"t":0}
]
},
"layer":[
{"data":{"name":"spec"},
 "mark":{"type":"line","interpolate":"step","color":"black","strokeWidth":3.6},
 "encoding":{
  "x":{"field":"f","type":"quantitative","scale":{"domain":[253.95,259.05],"nice":false,"zero":false},
   "axis":{"orient":"bottom","values":[254,255,256,257,258,259],"format":"d","tickSize":-38,"labelPadding":50,"title":"Frequency (GHz)","titleX":1180,"titleY":156,"titleBaseline":"alphabetic","titleAlign":"center"}},
  "y":{"field":"t","type":"quantitative","scale":{"domain":[-1,4],"nice":false,"zero":false},
   "axis":{"orient":"left","values":[-1,0,1,2,3,4],"format":"d","tickSize":-38,"labelPadding":81,"title":null}}
 }},
{"data":{"name":"model"},
 "mark":{"type":"line","color":"#ff0000","strokeWidth":4.5,"strokeJoin":"round"},
 "encoding":{
  "x":{"field":"f","type":"quantitative","axis":{"orient":"top","values":[254,255,256,257,258,259],"tickSize":-38,"labels":false,"title":null}},
  "y":{"field":"t","type":"quantitative","axis":{"orient":"right","values":[-1,0,1,2,3,4],"tickSize":-38,"labels":false,"title":null}}
 }},
{"data":{"values":[{"f":257.255,"t":2.73},{"f":257.255,"t":0.49}]},
 "mark":{"type":"line","color":"#0000ff","strokeWidth":4,"strokeDash":[6,9]},
 "encoding":{
  "x":{"field":"f","type":"quantitative","axis":{"orient":"bottom","values":[254.5,255.5,256.5,257.5,258.5],"tickSize":-19,"labels":false,"title":null,"domain":false}},
  "y":{"field":"t","type":"quantitative","axis":{"orient":"left","values":[-0.8,-0.6,-0.4,-0.2,0.2,0.4,0.6,0.8,1.2,1.4,1.6,1.8,2.2,2.4,2.6,2.8,3.2,3.4,3.6,3.8],"tickSize":-19,"labels":false,"title":null,"domain":false}}
 }},
{"data":{"values":[{"f":258.258,"t":3},{"f":258.457,"t":3}]},
 "mark":{"type":"line","color":"#0000ff","strokeWidth":4},
 "encoding":{
  "x":{"field":"f","type":"quantitative","axis":{"orient":"top","values":[254.5,255.5,256.5,257.5,258.5],"tickSize":-19,"labels":false,"title":null,"domain":false}},
  "y":{"field":"t","type":"quantitative","axis":{"orient":"right","values":[-0.8,-0.6,-0.4,-0.2,0.2,0.4,0.6,0.8,1.2,1.4,1.6,1.8,2.2,2.4,2.6,2.8,3.2,3.4,3.6,3.8],"tickSize":-19,"labels":false,"title":null,"domain":false}}
 }},
{"data":{"values":[{"f":258.312,"t":3.088,"o":1},{"f":258.259,"t":3.0,"o":2},{"f":258.312,"t":2.912,"o":3}]},
 "mark":{"type":"line","color":"#0000ff","strokeWidth":4,"strokeJoin":"miter"},
 "encoding":{
  "x":{"field":"f","type":"quantitative","axis":null},
  "y":{"field":"t","type":"quantitative","axis":null},
  "order":{"field":"o","type":"quantitative"}
 }},
{"data":{"values":[{"f":258.478,"t":3.0,"txt":"SO"}]},
 "mark":{"type":"text","align":"left","baseline":"middle","font":"Liberation Sans","fontSize":46,"color":"#0000ff"},
 "encoding":{"x":{"field":"f","type":"quantitative","axis":null},"y":{"field":"t","type":"quantitative","axis":null},"text":{"field":"txt"}}},
{"data":{"values":[{"f":257.2833,"t":3.287,"txt":"SiO"}]},
 "mark":{"type":"text","align":"left","baseline":"alphabetic","angle":270,"font":"Liberation Serif","fontWeight":"bold","fontSize":48,"color":"#0000ff"},
 "encoding":{"x":{"field":"f","type":"quantitative","axis":null},"y":{"field":"t","type":"quantitative","axis":null},"text":{"field":"txt"}}},
{"data":{"values":[{"f":257.236,"t":3.058,"txt":"29"}]},
 "mark":{"type":"text","align":"left","baseline":"alphabetic","angle":270,"font":"Liberation Serif","fontWeight":"bold","fontSize":36,"color":"#0000ff"},
 "encoding":{"x":{"field":"f","type":"quantitative","axis":null},"y":{"field":"t","type":"quantitative","axis":null},"text":{"field":"txt"}}},
{"data":{"values":[{"f":253.654,"t":0.993,"txt":"T"},{"f":253.654,"t":1.814,"txt":"(K)"}]},
 "mark":{"type":"text","align":"center","baseline":"alphabetic","angle":270,"font":"Liberation Mono","fontSize":66,"color":"black"},
 "encoding":{"x":{"field":"f","type":"quantitative","axis":null},"y":{"field":"t","type":"quantitative","axis":null},"text":{"field":"txt"}}},
{"data":{"values":[{"f":253.689,"t":1.204,"txt":"B"}]},
 "mark":{"type":"text","align":"center","baseline":"alphabetic","angle":270,"font":"Liberation Mono","fontSize":46,"color":"black"},
 "encoding":{"x":{"field":"f","type":"quantitative","axis":null},"y":{"field":"t","type":"quantitative","axis":null},"text":{"field":"txt"}}}
],
"resolve":{"axis":{"x":"independent","y":"independent"}}
}
